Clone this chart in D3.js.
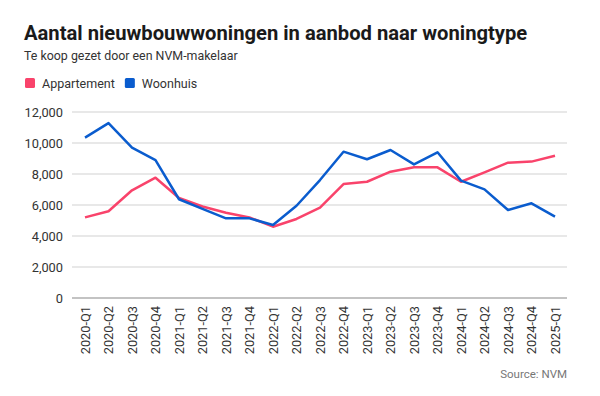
<!DOCTYPE html>
<html>
<head>
<meta charset="utf-8">
<script src="https://cdn.jsdelivr.net/npm/d3@7"></script>
<style>
    html, body { margin: 0; padding: 0; background: #fff; }
</style>
</head>
<body>
<script>
const fontFamily = "Roboto, \"Noto Sans\", Arial, sans-serif";

const quarters = [
    "2020-Q1", "2020-Q2", "2020-Q3", "2020-Q4",
    "2021-Q1", "2021-Q2", "2021-Q3", "2021-Q4",
    "2022-Q1", "2022-Q2", "2022-Q3", "2022-Q4",
    "2023-Q1", "2023-Q2", "2023-Q3", "2023-Q4",
    "2024-Q1", "2024-Q2", "2024-Q3", "2024-Q4",
    "2025-Q1"
];
const appartement = [
    5200, 5600, 6950, 7760,
    6450, 5900, 5500, 5200,
    4600, 5100, 5830, 7350,
    7500, 8150, 8430, 8430,
    7500, 8110, 8730, 8800,
    9180
];
const woonhuis = [
    10350, 11280, 9700, 8900,
    6370, 5750, 5140, 5140,
    4710, 5950, 7610, 9440,
    8950, 9550, 8620, 9400,
    7570, 7010, 5680, 6110,
    5250
];
const yTicks = [0, 2000, 4000, 6000, 8000, 10000, 12000];

const series = [
    { name: "Appartement", color: "#f9436b", values: appartement },
    { name: "Woonhuis", color: "#0a5cce", values: woonhuis }
];

const width = 600;
const height = 396;
const margin = { top: 112, right: 33, bottom: 98, left: 72 };

let svg = d3.select("body")
    .append("svg")
    .attr("width", width)
    .attr("height", height)
    .style("font-family", fontFamily);

// titles
svg.append("text")
    .attr("x", 24)
    .attr("y", 40)
    .attr("font-size", 20.2)
    .attr("font-weight", 700)
    .attr("fill", "#1a1a1a")
    .text("Aantal nieuwbouwwoningen in aanbod naar woningtype");

svg.append("text")
    .attr("x", 24)
    .attr("y", 59.5)
    .attr("font-size", 12.4)
    .attr("fill", "#333")
    .text("Te koop gezet door een NVM-makelaar");

// legend
let legend = svg.append("g").attr("transform", "translate(25,83)");
let lx = 0;
series.forEach(s => {
    let g = legend.append("g").attr("transform", `translate(${lx},0)`);
    g.append("rect")
        .attr("x", 0).attr("y", -5)
        .attr("width", 10).attr("height", 10)
        .attr("rx", 1.5)
        .attr("fill", s.color);
    let t = g.append("text")
        .attr("x", 17).attr("y", 4.5)
        .attr("font-size", 12.5)
        .attr("fill", "#333")
        .text(s.name);
    lx += 17 + t.node().getComputedTextLength() + 10;
});

let x = d3.scalePoint()
    .domain(quarters)
    .range([85, 555]);

let y = d3.scaleLinear()
    .domain([0, 12000])
    .range([height - margin.bottom, margin.top]);

// grid
let grid = svg.append("g");
grid.selectAll("line")
    .data(yTicks.filter(d => d > 0))
    .enter()
    .append("line")
    .attr("x1", margin.left)
    .attr("x2", width - margin.right)
    .attr("y1", d => y(d))
    .attr("y2", d => y(d))
    .attr("stroke", "#e0e0e0")
    .attr("stroke-width", 1.5);

// y axis labels
let yAxis = svg.append("g")
    .attr("transform", `translate(${margin.left},0)`)
    .call(d3.axisLeft(y).tickValues(yTicks).tickSize(0).tickPadding(9).tickFormat(d3.format(",")));
yAxis.select(".domain").remove();
yAxis.selectAll("text")
    .attr("font-size", 12.8)
    .attr("font-family", fontFamily)
    .attr("fill", "#333");

// x axis
let xAxis = svg.append("g")
    .attr("transform", `translate(0,${y(0)})`)
    .call(d3.axisBottom(x).tickSize(0).tickPadding(0));
xAxis.select(".domain")
    .attr("d", `M${margin.left},0H${width - margin.right}`)
    .attr("stroke", "#888")
    .attr("stroke-width", 1.2);
xAxis.selectAll("text")
    .attr("font-size", 12.8)
    .attr("font-family", fontFamily)
    .attr("fill", "#333")
    .attr("transform", "rotate(-90)")
    .attr("text-anchor", "end")
    .attr("x", -8)
    .attr("y", 0)
    .attr("dy", "0.35em");

// lines
let line = d3.line()
    .x((d, i) => x(quarters[i]))
    .y(d => y(d));

svg.append("g")
    .selectAll("path")
    .data(series)
    .enter()
    .append("path")
    .attr("d", d => line(d.values))
    .attr("fill", "none")
    .attr("stroke", d => d.color)
    .attr("stroke-width", 2.5)
    .attr("stroke-linejoin", "round");

// source
svg.append("text")
    .attr("x", width - margin.right)
    .attr("y", 378)
    .attr("text-anchor", "end")
    .attr("font-size", 11.5)
    .attr("fill", "#777")
    .text("Source: NVM");
</script>
</body>
</html>
